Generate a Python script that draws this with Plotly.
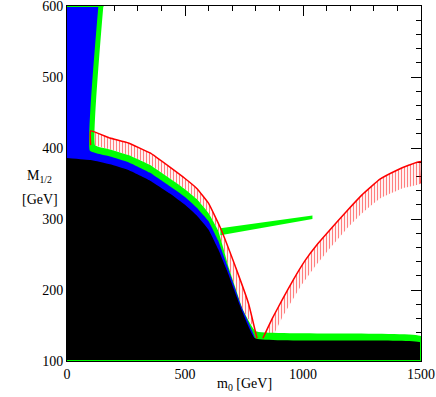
import plotly.graph_objects as go

# boundaries, (m0, M1/2) in GeV
black_m0 = [0, 100, 182, 260, 352, 436, 500, 550, 600, 640, 677, 740, 797, 1500]
black_m12 = [386, 383, 377, 369, 354, 336, 320, 305, 285, 258, 228, 172, 132, 126]

blue_m0 = [133, 97, 182, 260, 352, 436, 500, 550, 600, 640, 677, 740, 797]
blue_m12 = [600, 396, 388, 380, 365, 346, 331, 316, 297, 270, 236, 176, 132]

green_m0 = [154, 119, 182, 260, 352, 436, 500, 550, 600, 640, 687, 746, 800, 1500]
green_m12 = [600, 404, 398, 390, 376, 357, 342, 328, 308, 284, 230, 172, 142, 135]

redL_m0 = [100, 100, 182, 260, 352, 436, 500, 550, 600, 648, 719, 770, 805]
redL_m12 = [404, 424, 414, 407, 393, 373, 357, 343, 322, 289, 228, 180, 132]

redR_top_m0 = [830, 870, 910, 960, 1010, 1060, 1110, 1185, 1250, 1326, 1400, 1450, 1500]
redR_top_m12 = [132, 160, 185, 215, 242, 264, 283, 311, 334, 356, 369, 376, 381]
redR_low_m0 = [1500, 1420, 1326, 1250, 1185, 1110, 1044, 990, 950, 910, 880]
redR_low_m12 = [350, 343, 329, 308, 286, 257, 230, 205, 183, 160, 140]

wedge_m0 = [650, 1040, 1040, 650]
wedge_m12 = [287, 305, 300, 277]

GREEN = "#00ff00"
BLUE = "#0000ff"
RED = "#ff0000"

fig = go.Figure()

hatch = dict(shape="|", fgcolor=RED, bgcolor="rgba(0,0,0,0)", size=3, solidity=0.4)
smooth = dict(width=0, shape="spline", smoothing=0.3)

# hatched red bands
fig.add_trace(go.Scatter(x=redL_m0 + green_m0[1:-1][::-1], y=redL_m12 + green_m12[1:-1][::-1],
                         fill="toself", fillcolor="rgba(0,0,0,0)", fillpattern=hatch,
                         mode="lines", line=smooth, hoverinfo="skip"))
fig.add_trace(go.Scatter(x=redR_top_m0 + redR_low_m0, y=redR_top_m12 + redR_low_m12,
                         fill="toself", fillcolor="rgba(0,0,0,0)", fillpattern=hatch,
                         mode="lines", line=smooth, hoverinfo="skip"))

# green band
fig.add_trace(go.Scatter(x=green_m0 + [1500, 0, 0], y=green_m12 + [100, 100, 600],
                         fill="toself", fillcolor=GREEN, mode="lines", line=smooth,
                         hoverinfo="skip"))
# blue band
fig.add_trace(go.Scatter(x=blue_m0 + [blue_m0[-1], 0, 0], y=blue_m12 + [100, 100, 600],
                         fill="toself", fillcolor=BLUE, mode="lines", line=smooth,
                         hoverinfo="skip"))
# black region
fig.add_trace(go.Scatter(x=black_m0 + [1500, 0], y=black_m12 + [100, 100],
                         fill="toself", fillcolor="black", mode="lines", line=smooth,
                         hoverinfo="skip"))
# green wedge
fig.add_trace(go.Scatter(x=wedge_m0, y=wedge_m12, fill="toself", fillcolor=GREEN,
                         mode="lines", line=dict(width=0), hoverinfo="skip"))
# green edges where the band meets the frame
fig.add_trace(go.Scatter(x=[0, green_m0[0], None, 1500, 1500, 0],
                         y=[600, 600, None, green_m12[-1], 100, 100],
                         mode="lines", line=dict(color=GREEN, width=2), hoverinfo="skip"))
# red outlines
fig.add_trace(go.Scatter(x=redL_m0, y=redL_m12, mode="lines",
                         line=dict(color=RED, width=1.5, shape="spline", smoothing=0.3),
                         hoverinfo="skip"))
fig.add_trace(go.Scatter(x=redR_top_m0 + [redR_low_m0[0]], y=redR_top_m12 + [redR_low_m12[0]],
                         mode="lines", line=dict(color=RED, width=1.5, shape="spline", smoothing=0.3),
                         hoverinfo="skip"))

font = dict(family="Liberation Serif", size=14, color="black")
axis_common = dict(showline=True, linecolor="black", linewidth=1, mirror="allticks",
                   ticks="inside", ticklen=10, tickcolor="black", showgrid=False,
                   zeroline=False, layer="below traces", tickfont=font,
                   ticklabeloverflow="allow")

fig.update_xaxes(range=[0, 1500], tickvals=[0, 500, 1000, 1500],
                 minor=dict(ticks="inside", ticklen=5, dtick=100, tick0=0, tickcolor="black"),
                 **axis_common)
fig.update_yaxes(range=[100, 600], tickvals=[100, 200, 300, 400, 500, 600],
                 minor=dict(ticks="inside", ticklen=5, dtick=20, tick0=100, tickcolor="black"),
                 **axis_common)

fig.add_annotation(text="M<sub>1/2</sub>", xref="paper", yref="paper", x=-0.12, y=0.52,
                   showarrow=False, font=font)
fig.add_annotation(text="[GeV]", xref="paper", yref="paper", x=-0.133, y=0.455,
                   showarrow=False, font=font)
fig.add_annotation(text="m<sub>0</sub> [GeV]", xref="paper", yref="paper", x=0.5, y=-0.065,
                   showarrow=False, font=font, yanchor="middle")

fig.update_layout(width=436, height=397,
                  margin=dict(l=67, r=15, t=6, b=36, autoexpand=False),
                  plot_bgcolor="white", paper_bgcolor="white", showlegend=False)

fig.write_html("out.html", config={"displayModeBar": False},
               post_script="document.body.style.margin='0';")
